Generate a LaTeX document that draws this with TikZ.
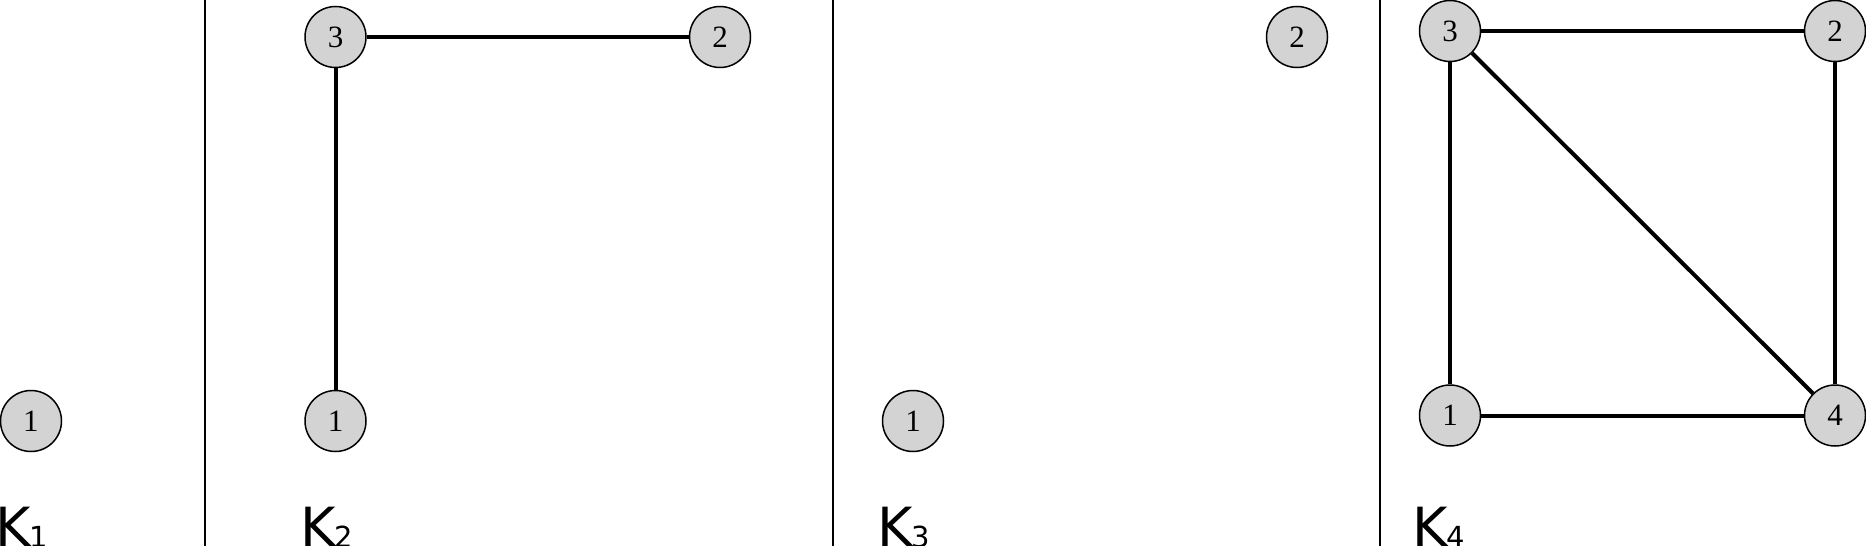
\documentclass[tikz,border=0pt]{standalone}
\usepackage{fontspec}
\setmainfont{Liberation Serif}
\newfontfamily\labelfont{DejaVu Sans}
\newcommand{\ksub}[1]{\kern-1pt\raisebox{-1pt}{\fontsize{29}{29}\selectfont #1}}
\begin{document}
\begin{tikzpicture}[x=1pt,y=-1pt,
  vertex/.style={circle,draw=black,line width=1.5pt,fill={rgb,255:red,211;green,211;blue,211},
    minimum size=61pt,inner sep=0pt,font=\fontsize{31}{31}\selectfont},
  edge/.style={line width=4pt},
  sep/.style={line width=2pt},
  klabel/.style={anchor=base west,inner sep=0pt,font=\labelfont\fontsize{54}{54}\selectfont}]
\useasboundingbox (0,0) rectangle (1866,546);
% separators
\coordinate (s1t) at (204.5,0); \coordinate (s1b) at (204.5,546);
\coordinate (s2t) at (833,0);   \coordinate (s2b) at (833,546);
\coordinate (s3t) at (1380,0);  \coordinate (s3b) at (1380,546);
\draw[sep] (s1t) -- (s1b);
\draw[sep] (s2t) -- (s2b);
\draw[sep] (s3t) -- (s3b);
% K1
\node[vertex] (a1) at (31,421) {1};
% K2
\node[vertex] (b3) at (335.5,37) {3};
\node[vertex] (b2) at (720,37) {2};
\node[vertex] (b1) at (335.5,421) {1};
\draw[edge] (b3) -- (b2);
\draw[edge] (b3) -- (b1);
% K3
\node[vertex] (c2) at (1297,37) {2};
\node[vertex] (c1) at (913,421) {1};
% K4
\node[vertex] (d3) at (1450,31) {3};
\node[vertex] (d2) at (1835,31) {2};
\node[vertex] (d1) at (1450,415.5) {1};
\node[vertex] (d4) at (1835,415.5) {4};
\draw[edge] (d3) -- (d2);
\draw[edge] (d3) -- (d1);
\draw[edge] (d3) -- (d4);
\draw[edge] (d2) -- (d4);
\draw[edge] (d1) -- (d4);
% labels
\node[klabel] (l1) at (-5,546) {K\ksub{1}};
\node[klabel] (l2) at (300,546) {K\ksub{2}};
\node[klabel] (l3) at (877,546) {K\ksub{3}};
\node[klabel] (l4) at (1412,546) {K\ksub{4}};
\end{tikzpicture}
\end{document}
